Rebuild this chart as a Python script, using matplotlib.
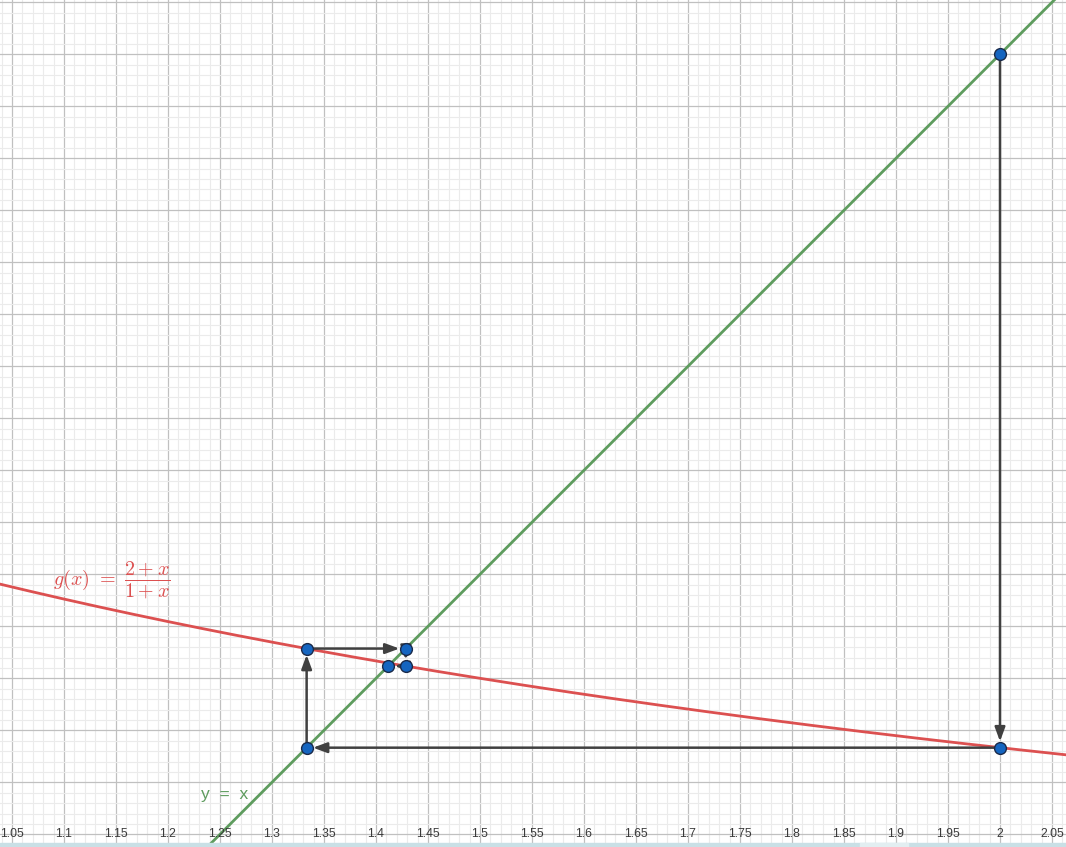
import matplotlib
matplotlib.use("Agg")
import matplotlib.pyplot as plt
from matplotlib.patches import Rectangle
import numpy as np

# cobweb iteration points for g(x) = (2+x)/(1+x), starting at x0 = 2
web_x = [2.0, 2.0, 1.3333, 1.3333, 1.4286, 1.4286, 1.4118]
web_y = [2.0, 1.3333, 1.3333, 1.4286, 1.4286, 1.4118, 1.4118]

tick_vals = [1.05, 1.1, 1.15, 1.2, 1.25, 1.3, 1.35, 1.4, 1.45, 1.5, 1.55, 1.6,
             1.65, 1.7, 1.75, 1.8, 1.85, 1.9, 1.95, 2.0, 2.05]
tick_labels = ["1.05", "1.1", "1.15", "1.2", "1.25", "1.3", "1.35", "1.4", "1.45",
               "1.5", "1.55", "1.6", "1.65", "1.7", "1.75", "1.8", "1.85", "1.9",
               "1.95", "2", "2.05"]

red = "#dc5050"
green = "#5e9c5e"
dark = "#404040"

plt.rcParams["mathtext.fontset"] = "cm"

fig = plt.figure(figsize=(10.66, 8.47), dpi=100)
ax = fig.add_axes([0, 0, 1, 1])

# grid
ax.set_xticks(np.arange(1.0, 2.1001, 0.05))
ax.set_yticks(np.arange(1.2, 2.1001, 0.05))
ax.set_xticks(np.arange(1.0, 2.1001, 0.01), minor=True)
ax.set_yticks(np.arange(1.2, 2.1001, 0.01), minor=True)
ax.grid(which="minor", color="#ebebeb", lw=0.8, zorder=0)
ax.grid(which="major", color="#c0c0c0", lw=0.9, zorder=0)
ax.tick_params(which="both", length=0, labelbottom=False, labelleft=False)
for s in ax.spines.values():
    s.set_visible(False)
ax.set_axisbelow(True)

# functions
xx = np.linspace(1.0, 2.1, 200)
ax.plot(xx, (2 + xx) / (1 + xx), color=red, lw=2, zorder=2)
ax.plot(xx, xx, color=green, lw=2, zorder=2)

# cobweb arrows
for i in range(len(web_x) - 1):
    ax.annotate("", xy=(web_x[i + 1], web_y[i + 1]), xytext=(web_x[i], web_y[i]),
                arrowprops=dict(arrowstyle="-|>,head_length=0.6,head_width=0.22",
                                color=dark, lw=1.8, mutation_scale=14,
                                shrinkA=0, shrinkB=4.5),
                zorder=3)

ax.plot(web_x, web_y, "o", ms=8.5, mfc="#1565c0", mec="#1a2a4a", mew=1, zorder=4,
        linestyle="none")

# labels
ax.text(1.0894, 1.4945, r"$g(x)\ =\ \dfrac{2+x}{1+x}$", color=red, fontsize=14.5,
        ha="left", va="center", zorder=5)
ax.text(1.2317, 1.2878, "y  =  x", color=green, fontsize=12.5, family="Liberation Sans",
        ha="left", va="center", zorder=5)

for v, lab in zip(tick_vals, tick_labels):
    ax.text(v, 1.25, lab, fontsize=8.8, family="Liberation Sans", color="#3a3a3a",
            ha="center", va="center", zorder=5)

ax.set_xlim(1.03846, 2.06346)
ax.set_ylim(1.2378, 2.0522)

# bottom bar
fig.patches.append(Rectangle((0, 0), 1, 4 / 847, transform=fig.transFigure,
                             color="#c9e0e6", zorder=10))
fig.patches.append(Rectangle((860 / 1066, 0), 48 / 1066, 4 / 847,
                             transform=fig.transFigure, color="#e2eef1", zorder=11))

fig.savefig("out.png", dpi=100)
